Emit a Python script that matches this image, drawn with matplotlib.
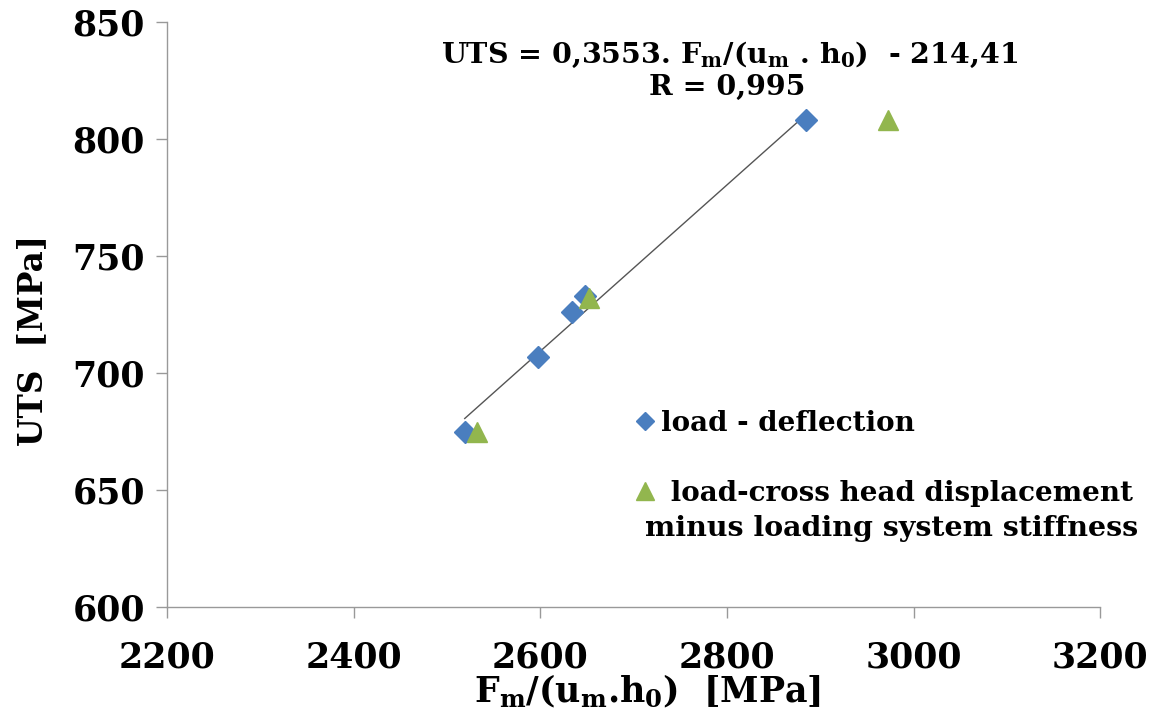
import numpy as np
import matplotlib
matplotlib.use("Agg")
import matplotlib.pyplot as plt

plt.rcParams['font.family'] = ['DejaVu Serif']
plt.rcParams['font.weight'] = 'bold'
plt.rcParams['mathtext.fontset'] = 'dejavuserif'
plt.rcParams['mathtext.default'] = 'bf'

# load - deflection
x_defl = [2519, 2597, 2634, 2648, 2885]
y_defl = [675, 707, 726, 733, 808]

# load-cross head displacement minus loading system stiffness
x_cross = [2532, 2652, 2973]
y_cross = [675, 732, 808]

# fit given on the chart
slope = 0.3553
intercept = -214.41

blue = '#4A7EBF'
green = '#92B64E'
grey = '#999999'

fig = plt.figure(figsize=(11.68, 7.15), dpi=100)
ax = fig.add_axes([0.143, 0.151, 0.799, 0.818])

xf = np.array([min(x_defl), max(x_defl)])
ax.plot(xf, slope * xf + intercept, color='#555555', lw=1.0, zorder=2)
ax.plot(x_defl, y_defl, 'D', color=blue, ms=11, ls='none', zorder=3,
        label='load - deflection')
ax.plot(x_cross, y_cross, '^', color=green, ms=15, ls='none', zorder=3,
        label=' load-cross head displacement')

ax.set_xlim(2200, 3200)
ax.set_ylim(600, 850)
ax.set_xticks(np.arange(2200, 3201, 200))
ax.set_yticks(np.arange(600, 851, 50))

for s in ['top', 'right']:
    ax.spines[s].set_visible(False)
for s in ['left', 'bottom']:
    ax.spines[s].set_color(grey)
    ax.spines[s].set_linewidth(1.0)
ax.tick_params(axis='both', colors=grey, length=8, width=1.0, labelcolor='black',
               labelsize=25)
ax.tick_params(axis='x', pad=16)
ax.tick_params(axis='y', pad=8)
for lab in ax.get_xticklabels() + ax.get_yticklabels():
    lab.set_fontweight('bold')

ax.set_ylabel('UTS  [MPa]', fontsize=23.5, fontweight='bold')
ax.yaxis.set_label_coords(-0.126, 0.456)
ax.set_xlabel(r'F$_{m}$/(u$_{m}$.h$_{0}$)  [MPa]', fontsize=25, fontweight='bold')
ax.xaxis.set_label_coords(0.515, -0.112)

ax.text(2803, 836, r'UTS = 0,3553. F$_{m}$/(u$_{m}$ . h$_{0}$)  - 214,41',
        ha='center', va='center', fontsize=20.5, fontweight='bold')
ax.text(2800, 822, 'R = 0,995', ha='center', va='center', fontsize=20.5,
        fontweight='bold')

ax.legend(loc='upper left', bbox_to_anchor=(0.47, 0.38), frameon=False,
          handletextpad=0.1, handlelength=1.0, labelspacing=1.55,
          markerscale=0.85, prop={'weight': 'bold', 'size': 20})
ax.text(2712, 633.5, 'minus loading system stiffness', ha='left', va='center',
        fontsize=20.5, fontweight='bold')

fig.savefig('out.png', dpi=100)
